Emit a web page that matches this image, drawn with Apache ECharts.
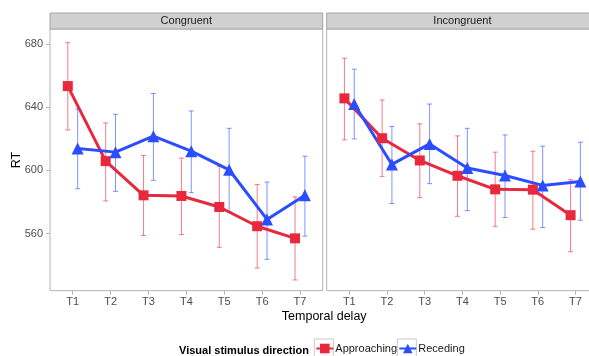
<!DOCTYPE html>
<html>
<head>
<meta charset="utf-8">
<script src="https://cdn.jsdelivr.net/npm/echarts@6/dist/echarts.min.js"></script>
<style>html,body{margin:0;padding:0;background:#fff}#c{width:589px;height:356px}</style>
</head>
<body>
<div id="c"></div>
<script>
var categories = ['T1','T2','T3','T4','T5','T6','T7'];
var panels = ['Congruent','Incongruent'];
var seriesNames = ['Approaching','Receding'];
var yTicks = [560, 600, 640, 680];

var congApproach   = [653.5, 605.9, 584.2, 583.8, 576.8, 564.6, 556.9];
var congApproachLo = [625.7, 580.6, 558.7, 559.3, 551.2, 538.1, 530.5];
var congApproachHi = [681.0, 630.1, 609.5, 607.8, 602.5, 591.0, 583.2];
var congRecede     = [613.9, 611.6, 621.7, 612.2, 600.4, 568.9, 584.2];
var congRecedeLo   = [588.4, 586.7, 593.7, 585.9, 573.7, 543.6, 558.3];
var congRecedeHi   = [639.0, 635.6, 648.8, 637.7, 626.7, 592.6, 609.0];

var incApproach    = [645.7, 620.4, 606.3, 596.6, 588.0, 587.8, 571.6];
var incApproachLo  = [619.4, 596.2, 582.7, 570.9, 564.6, 562.7, 548.4];
var incApproachHi  = [671.2, 644.7, 629.5, 621.9, 611.6, 612.2, 594.1];
var incRecede      = [642.1, 603.8, 616.8, 601.5, 596.8, 590.5, 593.0];
var incRecedeLo    = [620.0, 579.0, 591.6, 574.5, 570.1, 563.8, 568.4];
var incRecedeHi    = [664.2, 627.8, 642.1, 626.7, 622.5, 615.4, 617.9];

var RED = '#E8283C', BLUE = '#2B4DFF';
var RED_EB = 'rgba(232,40,60,0.6)', BLUE_EB = 'rgba(43,77,255,0.6)';
var DODGE = 0.13;
var FONT = 'Liberation Sans, Arial, sans-serif';

var chart = echarts.init(document.getElementById('c'), null, {renderer:'canvas'});

var grids = [
  {left: 50, top: 29, width: 272.7, height: 261.7, show: true, borderColor: '#b3b3b3', borderWidth: 1, backgroundColor: '#fff', containLabel: false, outerBoundsMode: 'none'},
  {left: 326.7, top: 29, width: 271.4, height: 261.7, show: true, borderColor: '#b3b3b3', borderWidth: 1, backgroundColor: '#fff', containLabel: false, outerBoundsMode: 'none'}
];
var tickVals = categories.map(function(c, i){ return i + 1; });

function xAxis(gi){
  return {
    type: 'value', gridIndex: gi, min: 0.4, max: 7.6,
    axisLine: {show: false}, splitLine: {show: false},
    axisTick: {show: true, customValues: tickVals, length: 4, lineStyle: {color: '#b3b3b3'}},
    axisLabel: {show: true, customValues: tickVals, margin: 6, color: '#4d4d4d', fontSize: 11, fontFamily: FONT,
      formatter: function(v){ return categories[Math.round(v) - 1] || ''; }}
  };
}
function yAxis(gi){
  return {
    type: 'value', gridIndex: gi, min: 523.7, max: 689.7,
    axisLine: {show: false}, splitLine: {show: false},
    axisTick: {show: gi === 0, customValues: yTicks, length: 4, lineStyle: {color: '#b3b3b3'}},
    axisLabel: {show: gi === 0, customValues: yTicks, margin: 7, color: '#4d4d4d', fontSize: 11, fontFamily: FONT}
  };
}

function pts(vals, off){ return vals.map(function(v, i){ return [i + 1 + off, v]; }); }
function ebData(lo, hi, off){ return lo.map(function(l, i){ return [i + 1 + off, l, hi[i]]; }); }

function errSeries(gi, lo, hi, off, color){
  return {
    type: 'custom', xAxisIndex: gi, yAxisIndex: gi, z: 1, silent: true,
    data: ebData(lo, hi, off),
    encode: {x: 0, y: [1, 2]},
    renderItem: function(params, api){
      var x = api.value(0);
      var p1 = api.coord([x, api.value(1)]);
      var p2 = api.coord([x, api.value(2)]);
      var w = 2.5;
      var st = {stroke: color, lineWidth: 1};
      return {type: 'group', children: [
        {type: 'line', shape: {x1: p1[0], y1: p1[1], x2: p2[0], y2: p2[1]}, style: st},
        {type: 'line', shape: {x1: p1[0]-w, y1: p1[1], x2: p1[0]+w, y2: p1[1]}, style: st},
        {type: 'line', shape: {x1: p2[0]-w, y1: p2[1], x2: p2[0]+w, y2: p2[1]}, style: st}
      ]};
    }
  };
}
function lineSeries(gi, name, vals, off, color, symbol, size){
  return {
    type: 'line', name: name, xAxisIndex: gi, yAxisIndex: gi, z: 3,
    data: pts(vals, off), symbol: symbol, symbolSize: size, showSymbol: true,
    lineStyle: {color: color, width: 3}, itemStyle: {color: color},
    animation: false
  };
}

var series = [
  errSeries(0, congApproachLo, congApproachHi, -DODGE, RED_EB),
  errSeries(0, congRecedeLo, congRecedeHi, DODGE, BLUE_EB),
  errSeries(1, incApproachLo, incApproachHi, -DODGE, RED_EB),
  errSeries(1, incRecedeLo, incRecedeHi, DODGE, BLUE_EB),
  lineSeries(0, seriesNames[0], congApproach, -DODGE, RED, 'rect', 10),
  lineSeries(0, seriesNames[1], congRecede, DODGE, BLUE, 'triangle', 12),
  lineSeries(1, seriesNames[0], incApproach, -DODGE, RED, 'rect', 10),
  lineSeries(1, seriesNames[1], incRecede, DODGE, BLUE, 'triangle', 12)
];

function legendAt(name, left){
  return {
    data: [name], left: left, top: 343, padding: 0, itemWidth: 17, itemHeight: 12,
    textStyle: {fontSize: 11, color: '#1a1a1a', fontFamily: FONT, padding: [2,0,0,-3]}
  };
}

var option = {
  animation: false,
  backgroundColor: '#fff',
  grid: grids,
  xAxis: [xAxis(0), xAxis(1)],
  yAxis: [yAxis(0), yAxis(1)],
  legend: [legendAt(seriesNames[0], 315.3), legendAt(seriesNames[1], 398.3)],
  graphic: [
    {type: 'rect', shape: {x: 50, y: 13, width: 272.7, height: 16}, style: {fill: '#d0d0d0', stroke: '#a6a6a6', lineWidth: 1}, z: 10},
    {type: 'rect', shape: {x: 326.7, y: 13, width: 271.4, height: 16}, style: {fill: '#d0d0d0', stroke: '#a6a6a6', lineWidth: 1}, z: 10},
    {type: 'text', x: 186.3, y: 21, style: {text: panels[0], fill: '#1a1a1a', font: '11px ' + FONT, textAlign: 'center', textVerticalAlign: 'middle'}, z: 11},
    {type: 'text', x: 462.4, y: 21, style: {text: panels[1], fill: '#1a1a1a', font: '11px ' + FONT, textAlign: 'center', textVerticalAlign: 'middle'}, z: 11},
    {type: 'text', x: 324.2, y: 317, style: {text: 'Temporal delay', fill: '#000', font: '12.5px ' + FONT, textAlign: 'center', textVerticalAlign: 'middle'}},
    {type: 'text', x: 17, y: 160, rotation: Math.PI / 2, style: {text: 'RT', fill: '#000', font: '12.5px ' + FONT, textAlign: 'center', textVerticalAlign: 'middle'}},
    {type: 'text', x: 309, y: 350.5, style: {text: 'Visual stimulus direction', fill: '#000', font: 'bold 11px ' + FONT, textAlign: 'right', textVerticalAlign: 'middle'}},
    {type: 'rect', shape: {x: 314.3, y: 339, width: 19, height: 20}, style: {fill: 'none', stroke: '#c8c8c8', lineWidth: 1}, z: 0},
    {type: 'rect', shape: {x: 397.3, y: 339, width: 19, height: 20}, style: {fill: 'none', stroke: '#c8c8c8', lineWidth: 1}, z: 0}
  ],
  series: series
};
chart.setOption(option);
</script>
</body>
</html>
